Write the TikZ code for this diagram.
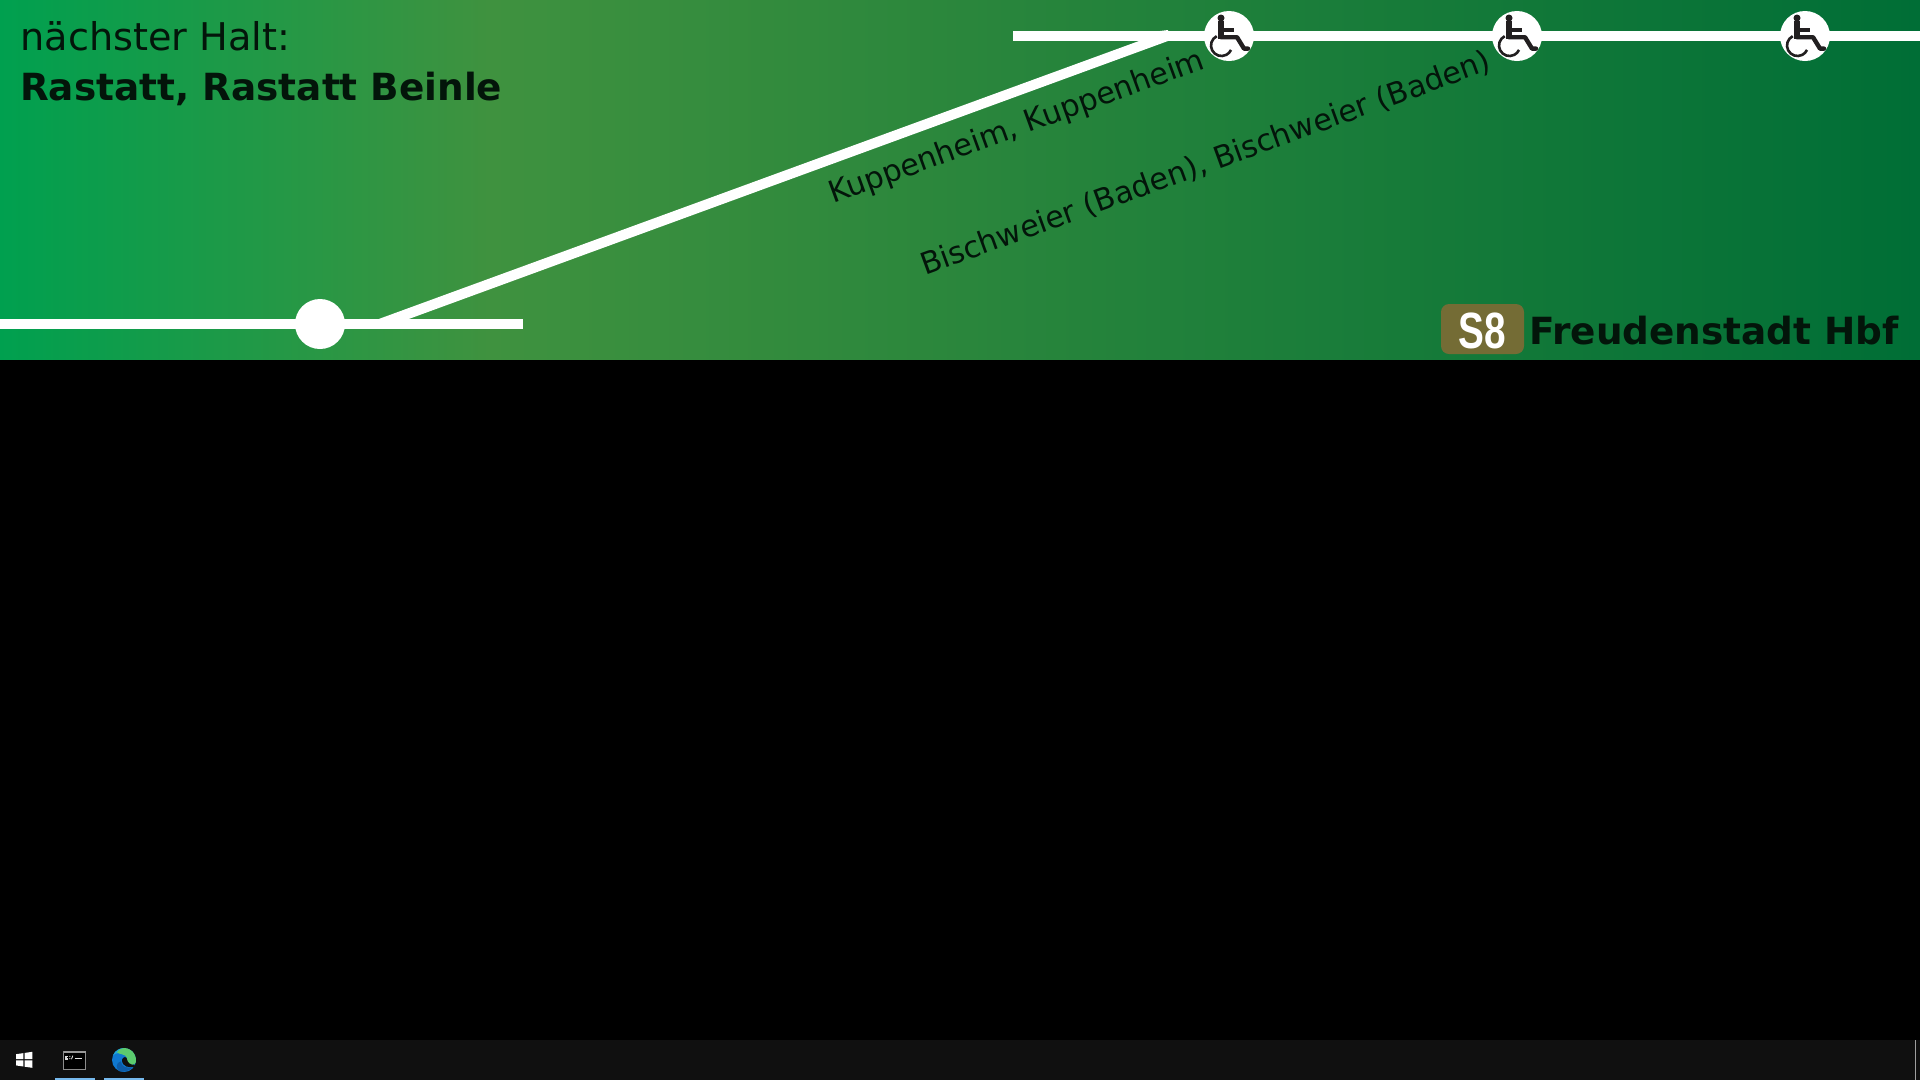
\documentclass[tikz,border=0pt]{standalone}
\usepackage{fontspec}
\setmainfont{DejaVu Sans}
\newfontfamily\lineFont{Liberation Sans}
\usetikzlibrary{calc}
\definecolor{gA}{HTML}{00A04F}
\definecolor{gB}{HTML}{3F923F}
\definecolor{gC}{HTML}{006E36}
\definecolor{ink}{HTML}{03150A}
\definecolor{icon}{HTML}{221F20}
\definecolor{lineS}{HTML}{746C35}
\definecolor{bar}{HTML}{101010}
\definecolor{under}{HTML}{76B9ED}
\pgfdeclarehorizontalshading{bandShade}{100bp}{color(0bp)=(gA); color(25bp)=(gA); color(37.75bp)=(gB); color(75bp)=(gC); color(100bp)=(gC)}
\tikzset{
  track/.style={line width=10pt,white},
  station/.style={circle,fill=white,minimum size=50pt,inner sep=0pt,outer sep=0pt},
  label/.style={font=\fontsize{38.2}{38.2}\selectfont,text=ink,anchor=base west,inner sep=0pt},
  boldlabel/.style={font=\fontsize{37.4}{37.4}\selectfont\bfseries,text=ink,anchor=base west,inner sep=0pt},
  via/.style={font=\fontsize{30.2}{30.2}\selectfont,text=ink,anchor=base west,inner sep=0pt,rotate=20},
  wheelchair/.pic={
    \begin{scope}[yscale=-1]
    \fill[icon] (-8,-18) circle (3.5);
    \draw[icon,line width=5.2pt] (-8,-15) -- (-8,3);
    \draw[icon,line width=3.6pt] (-8,-6.2) -- (5,-6.2);
    \draw[icon,line width=4.4pt,line join=round,line cap=round] (-8,1.2) -- (8,1.2) -- (15,12.6) -- (19,12.6);
    \draw[icon,line width=2.6pt] (-7.5,9.5) ++(243:10.5) arc[start angle=243,end angle=25,radius=10.5];
    \end{scope}
  }
}
\begin{document}
\begin{tikzpicture}[x=1pt,y=1pt,yscale=-1]
\useasboundingbox (0,0) rectangle (1920,1080);
\path[shading=bandShade] (0,0) rectangle (1920,360);
\fill[black] (0,360) rectangle (1920,1080);
% tracks
\coordinate (lowL) at (0,324);
\coordinate (lowR) at (523,324);
\coordinate (topL) at (1013,36);
\coordinate (topR) at (1920,36);
\draw[track] (lowL) -- (lowR);
\draw[track] (topL) -- (topR);
\coordinate (dA) at (376,320);
\coordinate (dB) at (1168,30);
\coordinate (dC) at (1168,41);
\coordinate (dD) at (406,320);
\fill[white] (dA) -- (1139,41) -- (1160,31) -- (dB) -- (dC) -- (dD) -- cycle;
% stations
\node[station] (s0) at (320,324) {};
\node[station] (s1) at (1229,36) {};
\node[station] (s2) at (1517,36) {};
\node[station] (s3) at (1805,36) {};
\pic at (s1) {wheelchair};
\pic at (s2) {wheelchair};
\pic at (s3) {wheelchair};
% texts
\node[label] (next) at (20.5,50) {nächster Halt:};
\node[boldlabel] (stop) at (20,100.5) {Rastatt, Rastatt Beinle};
\node[via] (v1) at (833,204) {Kuppenheim, Kuppenheim};
\node[via] (v2) at (925,276) {Bischweier (Baden), Bischweier (Baden)};
\node[boldlabel] (dest) at (1529,344) {Freudenstadt Hbf};
\node[fill=lineS,rounded corners=8pt,minimum width=83pt,minimum height=50pt,inner sep=0pt] (badge) at (1482.5,329) {};
\node[text=white,inner sep=0pt,anchor=base,font=\lineFont\bfseries\fontsize{51}{51}\selectfont] (lineNo) at (1482,348) {\scalebox{0.76}[1]{S8}};
% taskbar
\fill[bar] (0,1040) rectangle (1920,1080);
\fill[white] (16,1054.2) -- (23.4,1053.1) -- (23.4,1059.2) -- (16,1059.2) -- cycle;
\fill[white] (24.6,1052.9) -- (32.3,1051.8) -- (32.3,1059.2) -- (24.6,1059.2) -- cycle;
\fill[white] (16,1060.4) -- (23.4,1060.4) -- (23.4,1066.5) -- (16,1065.4) -- cycle;
\fill[white] (24.6,1060.4) -- (32.3,1060.4) -- (32.3,1067.8) -- (24.6,1066.7) -- cycle;
% console icon
\fill[black] (63.5,1051) rectangle (85.8,1069);
\draw[gray!90,line width=.8pt] (63.5,1051) rectangle (85.8,1069);
\fill[gray!80] (63.5,1051) rectangle (85.8,1053.4);
\draw[white!85!black,line width=1.1pt] (68.2,1056.4) -- (66,1056.4) -- (66,1059) -- (68.2,1059);
\fill[white!85!black] (69.3,1055.8) rectangle (70.3,1056.9) (69.3,1058) rectangle (70.3,1059.1);
\draw[white!85!black,line width=.9pt] (71.5,1059.2) -- (72.8,1055.6);
\draw[white!90!black,line width=1.2pt] (74.5,1058.7) -- (82,1058.7);
% edge icon
\definecolor{eBlue}{HTML}{0F78D0}
\definecolor{eDeep}{HTML}{0D5CA8}
\definecolor{eCyan}{HTML}{20A8D8}
\definecolor{eGreen}{HTML}{5CCB6E}
\begin{scope}[yshift=-0.7pt]
\fill[eBlue] (124,1060.7) circle (12);
\fill[eCyan] (113,1056) .. controls (115,1051) and (120,1048.7) .. (124,1048.7) -- (128,1052) -- (128,1056) .. controls (122,1053) and (116,1053) .. (113,1056) -- cycle;
\fill[eGreen] (124,1048.7) arc[start angle=270,end angle=372,radius=12] .. controls (135,1066) and (130,1066) .. (126,1065) .. controls (129,1060) and (127,1056) .. (122,1055) .. controls (120,1054.5) and (118,1054) .. (117,1053) .. controls (119,1050) and (122,1048.7) .. (124,1048.7) -- cycle;
\fill[bar] (122,1060.5) .. controls (123,1057) and (127,1057) .. (127,1060) .. controls (127.5,1063) and (130,1066) .. (135,1065.5) -- (134,1067.5) .. controls (130,1068.5) and (122,1068) .. (122,1060.5) -- cycle;
\fill[eDeep] (121,1062) .. controls (121,1067) and (126,1069.5) .. (133,1068) .. controls (129,1072) and (123,1073) .. (120,1072) .. controls (115,1069) and (116,1063) .. (121,1062) -- cycle;
\end{scope}
\fill[under] (55,1078) rectangle (95,1080);
\fill[under] (104,1078) rectangle (144,1080);
\fill[gray!75] (1914.6,1040) rectangle (1915.6,1080);
\end{tikzpicture}
\end{document}
